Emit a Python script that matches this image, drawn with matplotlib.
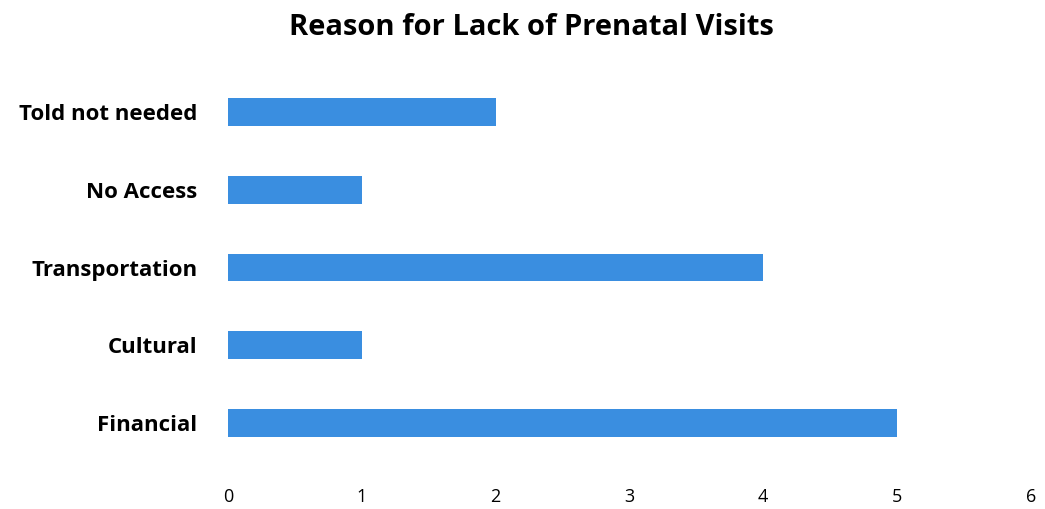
import matplotlib.pyplot as plt

categories = ['Financial', 'Cultural', 'Transportation', 'No Access', 'Told not needed']
values = [5, 1, 4, 1, 2]

plt.rcParams['font.family'] = ['Open Sans', 'DejaVu Sans']

fig = plt.figure(figsize=(10.45, 5.09), dpi=100)
ax = fig.add_axes([0.218, 0.0774, 0.7686, 0.7941])

ax.barh(range(len(categories)), values, height=0.36, color='#3a8ee0')
ax.set_xlim(0, 6)
ax.set_ylim(-0.6, 4.6)
ax.set_xticks(range(7))
ax.set_yticks(range(len(categories)))
ax.set_yticklabels(categories, fontsize=16, fontweight='bold')
ax.tick_params(axis='x', length=0, pad=13, labelsize=13)
ax.tick_params(axis='y', length=0, pad=22)
for s in ax.spines.values():
    s.set_visible(False)

fig.text(0.509, 0.945, 'Reason for Lack of Prenatal Visits', ha='center', va='center',
         fontsize=21, fontweight='bold')

fig.savefig('out.png')
